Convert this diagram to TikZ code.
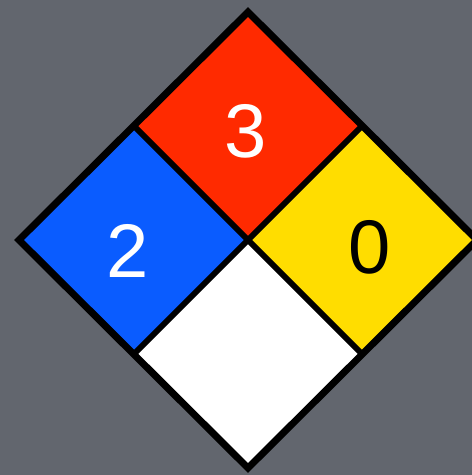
\documentclass[tikz,border=0pt]{standalone}
\usepackage{fontspec}
\setmainfont{Liberation Sans}
\definecolor{bggrey}{HTML}{62666E}
\definecolor{nfred}{HTML}{FF2A00}
\definecolor{nfblue}{HTML}{0A5CFF}
\definecolor{nfyellow}{HTML}{FFDD00}
\begin{document}
\begin{tikzpicture}[x=1pt,y=-1pt,
  quad/.style={draw=black,line width=6pt,line join=miter},
  digit/.style={font=\fontsize{76}{76}\selectfont,inner sep=0pt}]
\fill[bggrey] (0,0) rectangle (472,475);
\useasboundingbox (0,0) rectangle (472,475);
\coordinate (T) at (248,12);
\coordinate (B) at (248,468);
\coordinate (L) at (19,240);
\coordinate (R) at (477,240);
\coordinate (C) at (248,240);
\coordinate (TL) at (134,126);
\coordinate (TR) at (362,126);
\coordinate (BL) at (134,354);
\coordinate (BR) at (362,354);
\fill[nfred] (T) -- (TR) -- (C) -- (TL) -- cycle;
\fill[nfblue] (L) -- (TL) -- (C) -- (BL) -- cycle;
\fill[nfyellow] (R) -- (TR) -- (C) -- (BR) -- cycle;
\fill[white] (B) -- (BL) -- (C) -- (BR) -- cycle;
\draw[quad] (TL) -- (BR);
\draw[quad] (TR) -- (BL);
\draw[quad,line width=7pt] (T) -- (R) -- (B) -- (L) -- cycle;
\node[digit,text=white] (n3) at (246,131) {3};
\node[digit,text=white] (n2) at (128,251) {2};
\node[digit,text=black] (n0) at (370,247) {0};
\end{tikzpicture}
\end{document}
